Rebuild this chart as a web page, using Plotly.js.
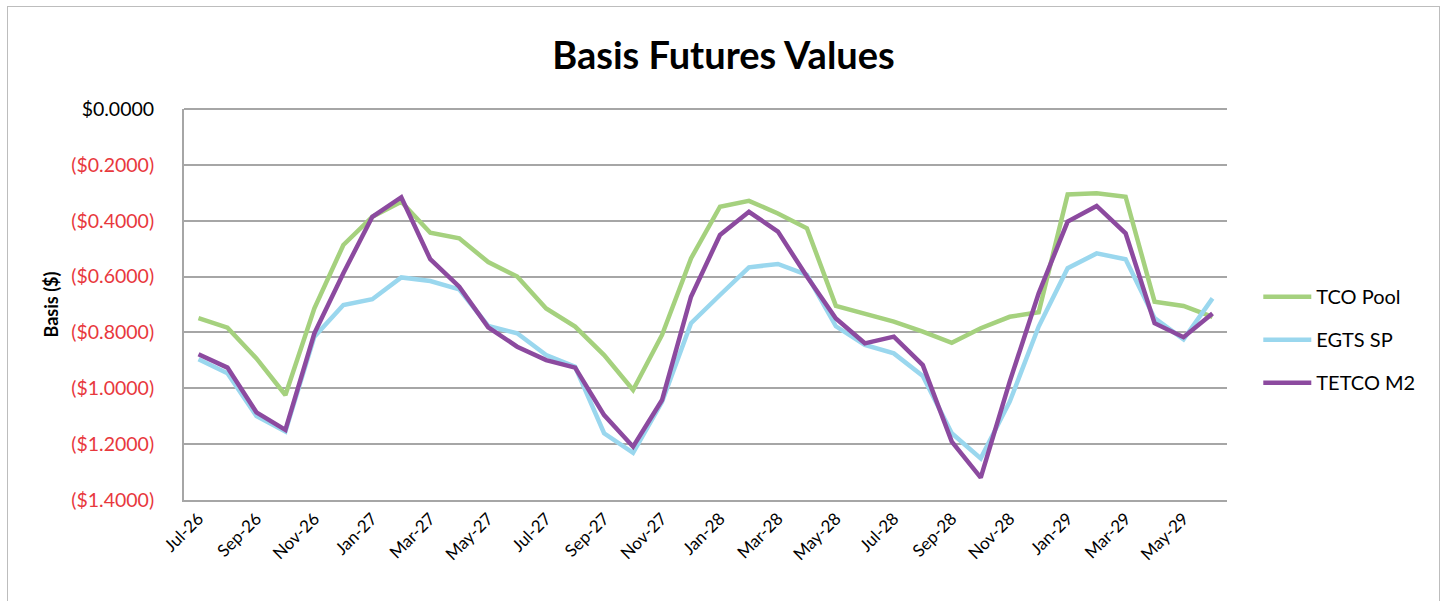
<!DOCTYPE html>
<html>
<head>
<meta charset="utf-8">
<script src="https://cdn.plot.ly/plotly-3.0.1.min.js"></script>
<style>
  html, body { margin: 0; padding: 0; background: #ffffff; }
  #wrap { position: relative; width: 1447px; height: 601px; overflow: hidden; }
  #chart { width: 1447px; height: 601px; }
  #frame { position: absolute; left: 7px; top: 6px; width: 1431px; height: 620px;
           border: 1px solid #bdbdbd; pointer-events: none; }
</style>
</head>
<body>
<div id="wrap">
  <div id="chart"></div>
  <div id="frame"></div>
</div>
<script>
const months = [
  "Jul-26","Aug-26","Sep-26","Oct-26","Nov-26","Dec-26",
  "Jan-27","Feb-27","Mar-27","Apr-27","May-27","Jun-27",
  "Jul-27","Aug-27","Sep-27","Oct-27","Nov-27","Dec-27",
  "Jan-28","Feb-28","Mar-28","Apr-28","May-28","Jun-28",
  "Jul-28","Aug-28","Sep-28","Oct-28","Nov-28","Dec-28",
  "Jan-29","Feb-29","Mar-29","Apr-29","May-29","Jun-29"
];

const tcoPool = [
  -0.749,-0.783,-0.893,-1.024,-0.714,-0.487,
  -0.386,-0.332,-0.443,-0.463,-0.548,-0.600,
  -0.714,-0.779,-0.881,-1.006,-0.809,-0.535,
  -0.350,-0.329,-0.374,-0.427,-0.705,-0.732,
  -0.761,-0.797,-0.837,-0.785,-0.744,-0.728,
  -0.306,-0.302,-0.314,-0.690,-0.705,-0.744
];

const egtsSP = [
  -0.896,-0.946,-1.099,-1.155,-0.815,-0.702,
  -0.681,-0.603,-0.616,-0.646,-0.777,-0.803,
  -0.881,-0.923,-1.161,-1.231,-1.048,-0.767,
  -0.666,-0.567,-0.555,-0.594,-0.778,-0.845,
  -0.875,-0.956,-1.161,-1.251,-1.048,-0.779,
  -0.570,-0.517,-0.538,-0.749,-0.825,-0.678
];

const tetcoM2 = [
  -0.878,-0.926,-1.086,-1.149,-0.803,-0.588,
  -0.386,-0.316,-0.538,-0.636,-0.782,-0.851,
  -0.899,-0.926,-1.096,-1.209,-1.042,-0.672,
  -0.451,-0.368,-0.439,-0.600,-0.750,-0.839,
  -0.815,-0.917,-1.191,-1.320,-0.976,-0.660,
  -0.403,-0.347,-0.445,-0.767,-0.817,-0.732
];

const xTickLabels = ["Jul-26","Sep-26","Nov-26","Jan-27","Mar-27","May-27","Jul-27","Sep-27","Nov-27",
                     "Jan-28","Mar-28","May-28","Jul-28","Sep-28","Nov-28","Jan-29","Mar-29","May-29"];

const yTickVals = [0, -0.2, -0.4, -0.6, -0.8, -1.0, -1.2, -1.4];
const yTickText = yTickVals.map(v => {
  const s = "$" + Math.abs(v).toFixed(4);
  return v < 0 ? '<span style="color:#e8383d">(' + s + ')</span>' : s;
});

const seriesNames = ["TCO Pool", "EGTS SP", "TETCO M2"];
const seriesColors = ["#a5d17e", "#9ad7ee", "#8c4a9f"];
const seriesData = [tcoPool, egtsSP, tetcoM2];

const traces = seriesData.map((d, i) => ({
  type: "scatter",
  mode: "lines",
  x: months,
  y: d,
  name: seriesNames[i],
  legendgroup: "g" + i,
  line: { color: seriesColors[i], width: 4.5 },
  hoverinfo: "x+y+name"
}));

const font = "Lato, 'Open Sans', 'Liberation Sans', sans-serif";

const layout = {
  width: 1447,
  height: 601,
  margin: { l: 184, r: 220, t: 109, b: 101 },
  paper_bgcolor: "#ffffff",
  plot_bgcolor: "#ffffff",
  font: { family: font, color: "#000000", size: 19 },
  title: {
    text: "<b>Basis Futures Values</b>",
    font: { family: font, size: 38, color: "#000000" },
    x: 0.5, xanchor: "center", xref: "container",
    y: 0.908, yanchor: "middle"
  },
  showlegend: true,
  legend: {
    x: 1.03, xanchor: "left",
    y: 0.57, yanchor: "top",
    font: { family: font, size: 20, color: "#000000" },
    traceorder: "grouped",
    tracegroupgap: 14,
    itemwidth: 48,
    bgcolor: "rgba(0,0,0,0)"
  },
  xaxis: {
    type: "category",
    tickmode: "array",
    tickvals: xTickLabels,
    ticktext: xTickLabels,
    tickangle: -45,
    tickfont: { family: font, size: 17, color: "#000000" },
    showgrid: false,
    showline: true,
    linecolor: "#a6a6a6",
    linewidth: 2,
    ticks: "",
    zeroline: false,
    range: [-0.5, 35.5]
  },
  yaxis: {
    range: [-1.4, 0],
    tickmode: "array",
    tickvals: yTickVals,
    ticktext: yTickText,
    tickfont: { family: font, size: 19.5, color: "#000000" },
    ticklabelstandoff: 24,
    showgrid: true,
    gridcolor: "#a6a6a6",
    gridwidth: 2,
    showline: true,
    linecolor: "#a6a6a6",
    linewidth: 2,
    zeroline: true,
    zerolinecolor: "#a6a6a6",
    zerolinewidth: 2,
    ticks: "",
    title: {
      text: "<b>Basis ($)</b>",
      font: { family: font, size: 18, color: "#000000" },
      standoff: 8
    }
  }
};

Plotly.newPlot("chart", traces, layout, { displayModeBar: false, staticPlot: true });
</script>
</body>
</html>
